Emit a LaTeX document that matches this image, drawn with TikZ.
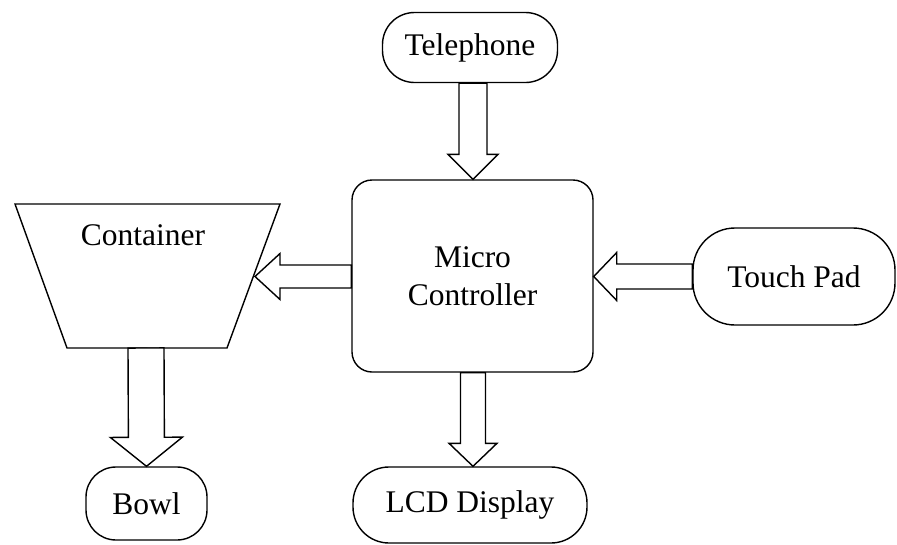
\documentclass[tikz,border=0pt]{standalone}
\usepackage{fontspec}
\setmainfont{Liberation Serif}
\usetikzlibrary{calc}
\newcommand{\fatarrow}[5]{%
  \draw[blockarrow]
    let \p0=(#1) in
    ($(#1)!#3!90:(#2)$) --
    ($($(#2)!#5!(#1)$)!#3!-90:(#1)$) --
    ($($(#2)!#5!(#1)$)!#4!-90:(#1)$) --
    (#2) --
    ($($(#2)!#5!(#1)$)!#4!90:(#1)$) --
    ($($(#2)!#5!(#1)$)!#3!90:(#1)$) --
    ($(#1)!#3!-90:(#2)$) -- cycle;}
\begin{document}
\begin{tikzpicture}[x=1pt,y=-1pt,
  every node/.style={font=\fontsize{31.5}{38}\selectfont},
  box/.style={draw, line width=1.4pt, fill=white, inner sep=0pt},
  blockarrow/.style={draw, line width=1.4pt, fill=white, line join=miter}]
\useasboundingbox (0,0) rectangle (897,544);
% nodes
\node[box, rounded corners=32pt, minimum width=175pt, minimum height=70pt] (tel) at (470,47.5) {Telephone};
\node[box, rounded corners=20pt, minimum width=241pt, minimum height=192pt, align=center] (mc) at (472.5,276) {Micro\\Controller};
\node[box, rounded corners=42pt, minimum width=202pt, minimum height=97pt] (tp) at (794,276.5) {Touch Pad};
\node[box, rounded corners=30pt, minimum width=121pt, minimum height=73pt] (bowl) at (146.5,503.5) {Bowl};
\node[box, rounded corners=36pt, minimum width=234pt, minimum height=76pt] (lcd) at (470,505) {LCD Display};
% container trapezoid
\coordinate (c1) at (15,204);
\coordinate (c2) at (280,204);
\coordinate (c3) at (227,348);
\coordinate (c4) at (67,348);
\draw[line width=1.4pt, line join=miter] (c1) -- (c2) -- (c3) -- (c4) -- cycle;
\node[inner sep=0pt] (cont) at (143,235) {Container};
\coordinate (contR) at (255,276.5);
\coordinate (contB) at (146,348);
% arrow end points
\coordinate (a1s) at ($(tel.south)+(3,0)$);
\coordinate (a1e) at ($(mc.north)+(0.5,0)$);
\coordinate (a2s) at ($(mc.west)+(0,0.5)$);
\coordinate (a3s) at ($(tp.west)$);
\coordinate (a3e) at ($(mc.east)+(0,0.5)$);
\coordinate (a4e) at ($(bowl.north)$);
\coordinate (a5s) at ($(mc.south)+(0.5,0)$);
\coordinate (a5e) at ($(lcd.north)+(3,0)$);
% arrows
\fatarrow{a1s}{a1e}{14pt}{25pt}{25pt}
\fatarrow{a2s}{contR}{11.5pt}{23pt}{25pt}
\fatarrow{a3s}{a3e}{12.5pt}{24pt}{23pt}
\fatarrow{contB}{a4e}{18pt}{36pt}{29pt}
\fatarrow{a5s}{a5e}{12.5pt}{24pt}{23pt}
\end{tikzpicture}
\end{document}
